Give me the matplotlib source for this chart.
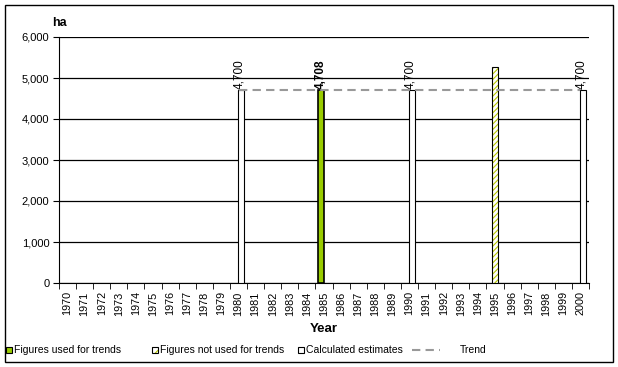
import matplotlib.pyplot as plt
import matplotlib.patches as mpatches
import matplotlib.lines as mlines
import numpy as np

plt.rcParams['font.family'] = ['Liberation Sans', 'DejaVu Sans']
plt.rcParams['hatch.linewidth'] = 0.8

years = list(range(1970, 2001))
used_years = [1985]
used_vals = [4708]
notused_years = [1995]
notused_vals = [5280]
calc_years = [1980, 1990, 2000]
calc_vals = [4700, 4700, 4700]
trend_years = [1980, 2000]
trend_vals = [4708, 4708]

green = '#99cc00'
hatch_col = '#b8c800'

fig = plt.figure(figsize=(6.18, 3.67), dpi=100)
ax = fig.add_axes([59 / 618, 1 - 283 / 367, 530 / 618, 246 / 367])

idx = {y: i for i, y in enumerate(years)}
w = 0.33

ax.bar([idx[y] - 0.17 for y in used_years], used_vals, width=w,
       color=green, edgecolor='black', linewidth=1.2, zorder=3)
# hatched bars: green hatch, black outline on top
ax.bar([idx[y] for y in notused_years], notused_vals, width=w,
       color='white', edgecolor=hatch_col, hatch='//////', linewidth=0, zorder=3)
ax.bar([idx[y] for y in notused_years], notused_vals, width=w,
       fill=False, edgecolor='black', linewidth=0.8, zorder=3)
ax.bar([idx[y] + 0.14 for y in calc_years], calc_vals, width=w,
       color='white', edgecolor='black', linewidth=0.8, zorder=3)
ax.plot([idx[y] for y in trend_years], trend_vals, color='#999999',
        linestyle=(0, (4, 2.5)), linewidth=1.5, zorder=4)

# value labels
for y, v in zip(used_years, used_vals):
    ax.text(idx[y] - 0.17, v + 30, f'{v:,}', rotation=90, ha='center',
            va='bottom', fontsize=8.5, fontweight='bold')
for y, v in zip(calc_years, calc_vals):
    ax.text(idx[y] + 0.02, v + 30, f'{v:,}', rotation=90, ha='center',
            va='bottom', fontsize=8.5)

ax.set_xlim(-0.5, len(years) - 0.5)
ax.set_ylim(0, 6000)
ax.set_yticks(np.arange(0, 6001, 1000))
ax.set_yticklabels([f'{v:,}' for v in range(0, 6001, 1000)], fontsize=8)
ax.yaxis.grid(True, color='black', linewidth=0.9)
ax.set_axisbelow(True)

ax.set_xticks(range(len(years)))
ax.set_xticklabels([str(y) for y in years], rotation=90, fontsize=7.8)
ax.set_xticks(np.arange(-0.5, len(years), 1), minor=True)
ax.tick_params(axis='x', which='major', length=0, pad=6)
ax.tick_params(axis='x', which='minor', length=4, direction='out')
ax.tick_params(axis='y', length=4, direction='out', pad=3)
for s in ['top', 'right']:
    ax.spines[s].set_visible(False)

fig.text(52 / 618, 1 - 23 / 367, 'ha', fontsize=9, fontweight='bold', va='center')
fig.text(324 / 618, 1 - 329 / 367, 'Year', fontsize=9.5, fontweight='bold',
         ha='center', va='center')

# outer border
fig.patches.append(mpatches.Rectangle((5 / 618, 5 / 367), 608 / 618, 357 / 367,
                                      transform=fig.transFigure, fill=False,
                                      edgecolor='black', linewidth=1))

# legend
ly = 1 - 350 / 367
sq = 6
def square(x, **kw):
    fig.patches.append(mpatches.Rectangle((x / 618, ly - sq / 2 / 367), sq / 618, sq / 367,
                                          transform=fig.transFigure, **kw))
square(6, facecolor=green, edgecolor='black', linewidth=0.8)
fig.text(14 / 618, ly, 'Figures used for trends', fontsize=7.5, va='center')
square(152, facecolor='white', edgecolor=hatch_col, hatch='////', linewidth=0)
square(152, fill=False, edgecolor='black', linewidth=0.8)
fig.text(160 / 618, ly, 'Figures not used for trends', fontsize=7.5, va='center')
square(298, facecolor='white', edgecolor='black', linewidth=0.8)
fig.text(306 / 618, ly, 'Calculated estimates', fontsize=7.5, va='center')
fig.lines.append(mlines.Line2D([412 / 618, 440 / 618], [ly, ly], transform=fig.transFigure,
                               color='#999999', linestyle=(0, (4, 2.5)), linewidth=1.5))
fig.text(460 / 618, ly, 'Trend', fontsize=7.5, va='center')

fig.savefig('out.png', dpi=100)
